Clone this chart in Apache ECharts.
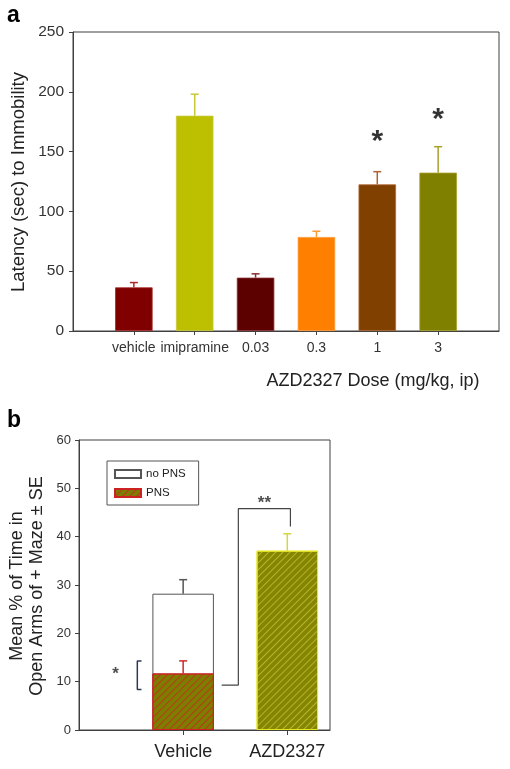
<!DOCTYPE html>
<html>
<head>
<meta charset="utf-8">
<script src="https://cdn.jsdelivr.net/npm/echarts@6/dist/echarts.min.js"></script>
<style>html,body{margin:0;padding:0;background:#fff}#c{width:510px;height:769px}</style>
</head>
<body>
<div id="c"></div>
<script>
// ---- Panel a data ----
const catsA = ['vehicle', 'imipramine', '0.03', '0.3', '1', '3'];
const meanA = [36.5, 180, 44.6, 78.6, 122.6, 132.4];
const semA = [4.0, 18.0, 3.2, 4.8, 10.6, 21.7];
const sigA = ['', '', '', '', '*', '*'];
const sigYA = [0, 0, 0, 0, 158, 177];
const colorsA = ['#800000', '#bcc000', '#5c0000', '#ff8000', '#804000', '#808000'];
const errColorsA = ['#a82a2a', '#c8c83a', '#8b3030', '#ff9a33', '#b06430', '#a8a028'];
const yTicksA = [0, 50, 100, 150, 200, 250];

// ---- Panel b data ----
const catsB = ['Vehicle', 'AZD2327'];
const noPNS = [28.2, null];
const noPNSsem = [2.9, null];
const PNS = [11.7, 37.1];
const PNSsem = [2.6, 3.5];
const yTicksB = [0, 10, 20, 30, 40, 50, 60];
// significance annotations (data space)
const bracketB = [[1.37, 9.3], [1.53, 9.3], [1.53, 45.8], [2.03, 45.8], [2.03, 42.1]];
const bracketLeft = [[0.6, 14.3], [0.56, 14.3], [0.56, 8.4], [0.6, 8.4]];
const starsB = [[1.78, 46.9, '**'], [0.35, 11.5, '*']];

const FONT = 'Liberation Sans, Arial, sans-serif';
const axisColor = '#404040';
const labelColor = '#333';

function errRender(colors) {
  return function (params, api) {
    const x = api.value(0), y = api.value(1), e = api.value(2);
    const p0 = api.coord([x, y]);
    const p1 = api.coord([x, y + e]);
    const c = colors[params.dataIndex];
    return {
      type: 'group',
      children: [
        { type: 'line', shape: { x1: p0[0], y1: p0[1], x2: p1[0], y2: p1[1] }, style: { stroke: c, lineWidth: 1.5 } },
        { type: 'line', shape: { x1: p1[0] - 4, y1: p1[1], x2: p1[0] + 4, y2: p1[1] }, style: { stroke: c, lineWidth: 1.5 } }
      ]
    };
  };
}

const barA = meanA.map((v, i) => ({
  value: [i + 1, v],
  itemStyle: { color: colorsA[i], borderColor: errColorsA[i], borderWidth: 0.8 }
}));
const errA = meanA.map((v, i) => [i + 1, v, semA[i]]);
const starA = sigA.map((s, i) => s ? [i + 1, sigYA[i], s] : null).filter(Boolean);

const pnsDecal = { symbol: 'rect', symbolSize: 1, dashArrayX: [1, 0], dashArrayY: [1, 4], rotation: -Math.PI / 4, color: 'rgba(200,40,30,0.8)' };
const azdDecal = { symbol: 'rect', symbolSize: 1, dashArrayX: [1, 0], dashArrayY: [1, 4], rotation: -Math.PI / 4, color: 'rgba(195,195,70,0.75)' };

const barNo = noPNS.map((v, i) => v == null ? null : [i + 1, v]).filter(Boolean);
const barP = PNS.map((v, i) => i === 0
  ? { value: [i + 1, v] }
  : { value: [i + 1, v], itemStyle: { color: '#858500', borderColor: '#e6e61e', decal: azdDecal } });
const errB = [];
const errBColors = [];
noPNS.forEach((v, i) => { if (v != null) { errB.push([i + 1, v, noPNSsem[i]]); errBColors.push('#555'); } });
PNS.forEach((v, i) => { errB.push([i + 1, v, PNSsem[i]]); errBColors.push(i === 0 ? '#cc2a2a' : '#d6d640'); });

const chart = echarts.init(document.getElementById('c'), null, { renderer: 'canvas' });
chart.setOption({
  animation: false,
  textStyle: { fontFamily: FONT },
  grid: [
    { left: 73, top: 32, width: 426, height: 299, show: true, borderColor: axisColor, borderWidth: 1, backgroundColor: 'transparent' },
    { left: 79, top: 440, width: 251, height: 290, show: true, borderColor: axisColor, borderWidth: 1, backgroundColor: 'transparent' }
  ],
  xAxis: [
    {
      gridIndex: 0, type: 'value', min: 0, max: 7, interval: 1,
      splitLine: { show: false },
      axisLine: { lineStyle: { color: axisColor, width: 1 } },
      axisTick: { show: true, length: 4, customValues: catsA.map((c, i) => i + 1), lineStyle: { color: axisColor } },
      axisLabel: { customValues: catsA.map((c, i) => i + 1), formatter: v => catsA[v - 1] || '', margin: 10, fontSize: 14, color: labelColor, fontFamily: FONT }
    },
    {
      gridIndex: 1, type: 'value', min: 0, max: 2.41,
      splitLine: { show: false },
      axisLine: { lineStyle: { color: axisColor, width: 1 } },
      axisTick: { show: true, length: 5, customValues: catsB.map((c, i) => i + 1), lineStyle: { color: axisColor } },
      axisLabel: { customValues: catsB.map((c, i) => i + 1), formatter: v => catsB[v - 1] || '', margin: 13, fontSize: 18, color: '#222', fontFamily: FONT }
    }
  ],
  yAxis: [
    {
      gridIndex: 0, type: 'value', min: 0, max: 250, interval: 50,
      splitLine: { show: false },
      axisLine: { show: true, lineStyle: { color: axisColor, width: 1 } },
      axisTick: { show: true, length: 4, inside: false, lineStyle: { color: axisColor } },
      axisLabel: { margin: 9, fontSize: 15.5, color: labelColor, fontFamily: FONT, formatter: v => yTicksA.includes(v) ? String(v) : '' }
    },
    {
      gridIndex: 1, type: 'value', min: 0, max: 60, interval: 10,
      splitLine: { show: false },
      axisLine: { show: true, lineStyle: { color: axisColor, width: 1 } },
      axisTick: { show: true, length: 4, inside: false, lineStyle: { color: axisColor } },
      axisLabel: { margin: 8, fontSize: 13, color: labelColor, fontFamily: FONT, formatter: v => yTicksB.includes(v) ? String(v) : '' }
    }
  ],
  legend: {
    data: ['no PNS', 'PNS'],
    orient: 'vertical', left: 107, top: 461,
    padding: [7, 13, 6, 7],
    itemWidth: 26, itemHeight: 8, itemGap: 7,
    borderColor: '#555', borderWidth: 1, borderRadius: 0,
    icon: 'rect',
    textStyle: { fontSize: 11.5, color: '#222', fontFamily: FONT }
  },
  graphic: [
    { type: 'text', left: 7, top: 4, style: { text: 'a', font: 'bold 23px ' + FONT, fill: '#000' } },
    { type: 'text', left: 7, top: 409, style: { text: 'b', font: 'bold 23px ' + FONT, fill: '#000' } },
    { type: 'text', x: 19, y: 182, rotation: Math.PI / 2, style: { text: 'Latency (sec) to Immobility', font: '18.5px ' + FONT, fill: '#222', textAlign: 'center', textVerticalAlign: 'middle' } },
    { type: 'text', x: 373, y: 381, style: { text: 'AZD2327 Dose (mg/kg, ip)', font: '18px ' + FONT, fill: '#222', textAlign: 'center', textVerticalAlign: 'middle' } },
    { type: 'text', x: 27, y: 586, rotation: Math.PI / 2, style: { text: 'Mean % of Time in\nOpen Arms of + Maze \u00b1 SE', font: '18px ' + FONT, lineHeight: 20, fill: '#222', textAlign: 'center', textVerticalAlign: 'middle' } }
  ],
  series: [
    { type: 'bar', xAxisIndex: 0, yAxisIndex: 0, barWidth: 37.5, data: barA, z: 2 },
    { type: 'custom', xAxisIndex: 0, yAxisIndex: 0, data: errA, renderItem: errRender(errColorsA), z: 3 },
    {
      type: 'scatter', xAxisIndex: 0, yAxisIndex: 0, data: starA, symbolSize: 0,
      label: { show: true, position: 'inside', formatter: p => p.value[2], fontSize: 30, fontWeight: 'bold', color: '#000', fontFamily: FONT }
    },
    {
      name: 'no PNS', type: 'bar', xAxisIndex: 1, yAxisIndex: 1, barWidth: 61.5, barGap: '-100%', data: barNo, z: 2,
      itemStyle: { color: '#ffffff', borderColor: '#555', borderWidth: 1 }
    },
    {
      name: 'PNS', type: 'bar', xAxisIndex: 1, yAxisIndex: 1, barWidth: 61.5, barGap: '-100%', data: barP, z: 3,
      itemStyle: { color: '#7d7d00', borderColor: '#cc2222', borderWidth: 1, decal: pnsDecal }
    },
    { type: 'custom', xAxisIndex: 1, yAxisIndex: 1, data: errB, renderItem: errRender(errBColors), z: 4 },
    { type: 'line', xAxisIndex: 1, yAxisIndex: 1, data: bracketB, symbol: 'none', lineStyle: { color: '#444', width: 1.2 }, z: 5 },
    { type: 'line', xAxisIndex: 1, yAxisIndex: 1, data: bracketLeft, symbol: 'none', lineStyle: { color: '#2b3a55', width: 1.5 }, z: 5 },
    {
      type: 'scatter', xAxisIndex: 1, yAxisIndex: 1, data: starsB, symbolSize: 0,
      label: { show: true, position: 'inside', formatter: p => p.value[2], fontSize: 17, fontWeight: 'bold', color: '#222', fontFamily: FONT }
    }
  ]
});
</script>
</body>
</html>
